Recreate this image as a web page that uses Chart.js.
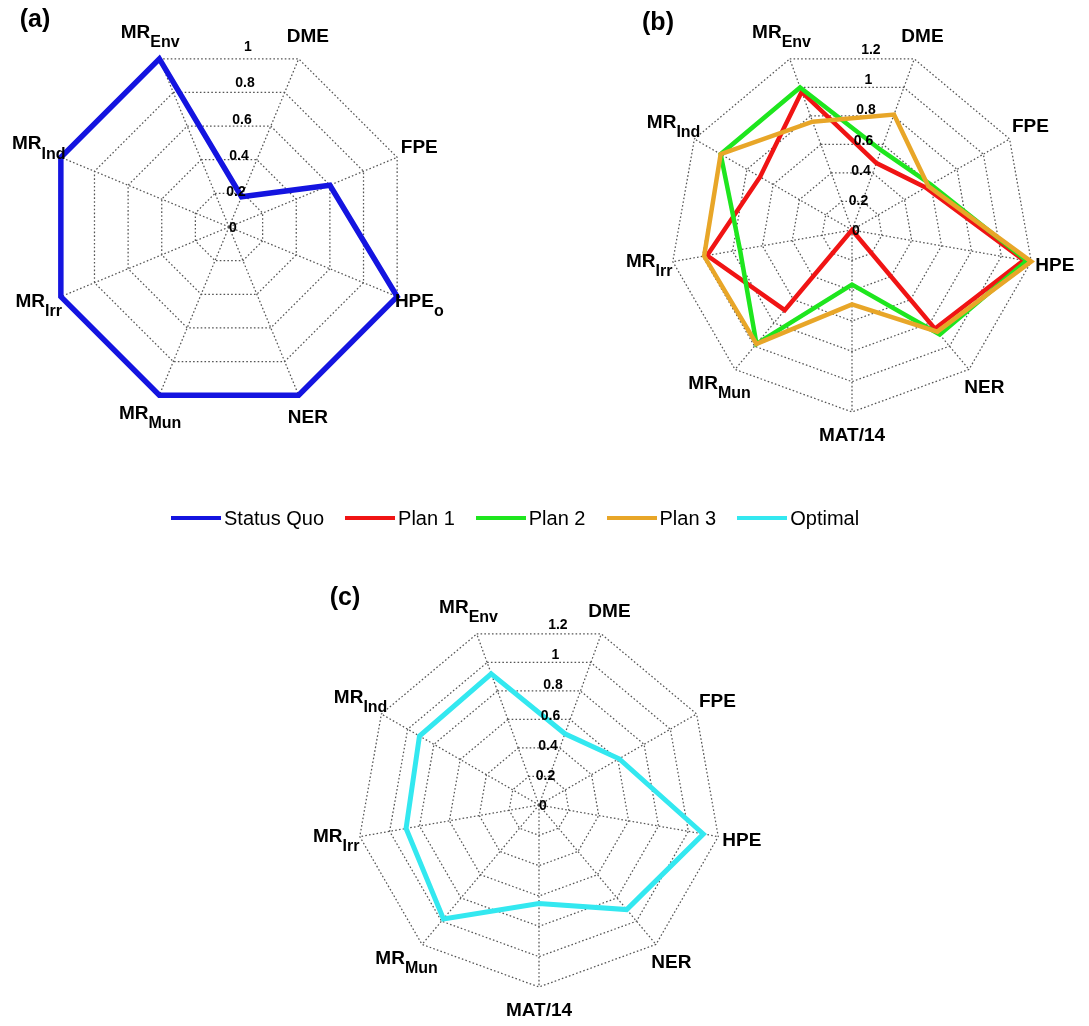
<!DOCTYPE html>
<html>
<head>
<meta charset="utf-8">
<title>Spider plots of plan performance</title>
<script src="https://cdn.jsdelivr.net/npm/chart.js@4.4.1/dist/chart.umd.min.js"></script>
<style>
  html, body { margin: 0; padding: 0; background: #fff; overflow: hidden; }
  #wrap { position: relative; width: 1089px; height: 1026px; }
  #wrap canvas { position: absolute; left: 0; top: 0; }
  #legend {
    position: absolute; left: 171px; top: 506px; height: 24px;
    display: flex; align-items: center; white-space: nowrap;
    font: 20px 'Liberation Sans', Arial, sans-serif; color: #000;
  }
  #legend .item { display: flex; align-items: center; margin-right: 21px; }
  #legend .swatch { width: 50px; height: 4px; margin-right: 3px; }
</style>
</head>
<body>
<div id="wrap">
  <canvas id="chartA" width="1089" height="1026"></canvas>
  <canvas id="chartB" width="1089" height="1026"></canvas>
  <canvas id="chartC" width="1089" height="1026"></canvas>
  <div id="legend"></div>
</div>
<script>
// Axis names; the text after "_" is set as a subscript.
const axesA  = ['MR_Env', 'DME', 'FPE', 'HPE_o', 'NER', 'MR_Mun', 'MR_Irr', 'MR_Ind'];
const axesBC = ['MR_Env', 'DME', 'FPE', 'HPE', 'NER', 'MAT/14', 'MR_Mun', 'MR_Irr', 'MR_Ind'];

// Value labels along the web
const ticksA  = ['0', '0.2', '0.4', '0.6', '0.8', '1'];
const ticksBC = ['0', '0.2', '0.4', '0.6', '0.8', '1', '1.2'];

// Panel (a)
const statusQuo = [1.00, 0.18, 0.60, 1.00, 1.00, 1.00, 1.00, 1.00];

// Panel (b)
const plan1 = [0.97, 0.47, 0.56, 1.15, 0.85, 0.00, 0.69, 0.97, 0.70];
const plan2 = [1.00, 0.56, 0.60, 1.17, 0.90, 0.36, 0.98, 0.75, 1.00];
const plan3 = [0.76, 0.81, 0.58, 1.20, 0.875, 0.49, 0.98, 0.99, 1.00];

// Panel (c)
const optimal = [0.92, 0.50, 0.61, 1.10, 0.90, 0.65, 0.98, 0.89, 0.91];

const seriesNames  = ['Status Quo', 'Plan 1', 'Plan 2', 'Plan 3', 'Optimal'];
const seriesColors = ['#1414e0', '#f01414', '#1ee61e', '#e8a628', '#33e8f0'];

const FONT = "'Liberation Sans', Arial, sans-serif";
const W = 1089, H = 1026, R = 182.5;
const GRID = '#555555';

// Axis names, value labels and the panel tag, drawn over the web
function panelDecor(tag, names, tickLabels) {
  return {
    id: 'panelDecor',
    afterDraw(chart) {
      const s = chart.scales.r;
      const ctx = chart.ctx;
      ctx.save();
      ctx.fillStyle = '#000';
      ctx.textBaseline = 'middle';
      ctx.textAlign = 'left';

      const mainFont = 'bold 19px ' + FONT;
      const subFont = 'bold 16px ' + FONT;
      names.forEach((name, i) => {
        const p = s.getPointPosition(i, s.drawingArea + 24);
        const [main, sub] = name.split('_');
        ctx.font = mainFont;
        const wm = ctx.measureText(main).width;
        let ws = 0;
        if (sub) { ctx.font = subFont; ws = ctx.measureText(sub).width; }
        const x0 = p.x - (wm + ws) / 2;
        ctx.font = mainFont;
        ctx.fillText(main, x0, sub ? p.y - 4 : p.y);
        if (sub) {
          ctx.font = subFont;
          ctx.fillText(sub, x0 + wm, p.y + 6);
        }
      });

      // value labels on a line tilted a few degrees right of vertical
      ctx.font = 'bold 14px ' + FONT;
      ctx.textAlign = 'center';
      const tilt = 4.7 * Math.PI / 180;
      tickLabels.forEach(t => {
        const d = s.getDistanceFromCenterForValue(Number(t));
        ctx.fillText(t, s.xCenter + 4 + d * Math.sin(tilt), s.yCenter + 1.5 - d * Math.cos(tilt));
      });

      ctx.font = 'bold 25px ' + FONT;
      ctx.fillText(tag, s.xCenter - 194, s.yCenter - 207);
      ctx.restore();
    }
  };
}

function dataset(label, values, color, width, order) {
  return {
    label, data: values, borderColor: color, backgroundColor: color,
    borderWidth: width, fill: false, pointRadius: 0, pointHoverRadius: 0,
    tension: 0, clip: false, order
  };
}

function radarChart(id, cx, cy, names, tickLabels, maxValue, startAngle, datasets, tag) {
  return new Chart(document.getElementById(id), {
    type: 'radar',
    data: { labels: names, datasets },
    options: {
      responsive: false,
      animation: false,
      events: [],
      layout: {
        padding: { left: cx - R, right: W - cx - R, top: cy - R, bottom: H - cy - R }
      },
      plugins: { legend: { display: false }, tooltip: { enabled: false } },
      scales: {
        r: {
          min: 0, max: maxValue,
          startAngle,
          ticks: { display: false, stepSize: 0.2, z: 1 },
          grid: { circular: false, color: GRID, lineWidth: 1.25 },
          border: { dash: [1.6, 2.2] },
          angleLines: { color: GRID, lineWidth: 1.25, borderDash: [1.6, 2.2] },
          pointLabels: { display: false }
        }
      }
    },
    plugins: [panelDecor(tag, names, tickLabels)]
  });
}

radarChart('chartA', 229, 227.5, axesA, ticksA, 1.0, -22.5, [
  dataset(seriesNames[0], statusQuo, seriesColors[0], 5.5, 0)
], '(a)');

radarChart('chartB', 852, 230.5, axesBC, ticksBC, 1.2, -20, [
  dataset(seriesNames[1], plan1, seriesColors[1], 4.5, 3),
  dataset(seriesNames[2], plan2, seriesColors[2], 4.5, 2),
  dataset(seriesNames[3], plan3, seriesColors[3], 4.5, 1)
], '(b)');

radarChart('chartC', 539.5, 805, axesBC, ticksBC, 1.2, -20, [
  dataset(seriesNames[4], optimal, seriesColors[4], 5, 0)
], '(c)');

// Shared legend
const legend = document.getElementById('legend');
seriesNames.forEach((name, i) => {
  const item = document.createElement('div');
  item.className = 'item';
  const sw = document.createElement('span');
  sw.className = 'swatch';
  sw.style.background = seriesColors[i];
  const tx = document.createElement('span');
  tx.textContent = name;
  item.appendChild(sw);
  item.appendChild(tx);
  legend.appendChild(item);
});
</script>
</body>
</html>
